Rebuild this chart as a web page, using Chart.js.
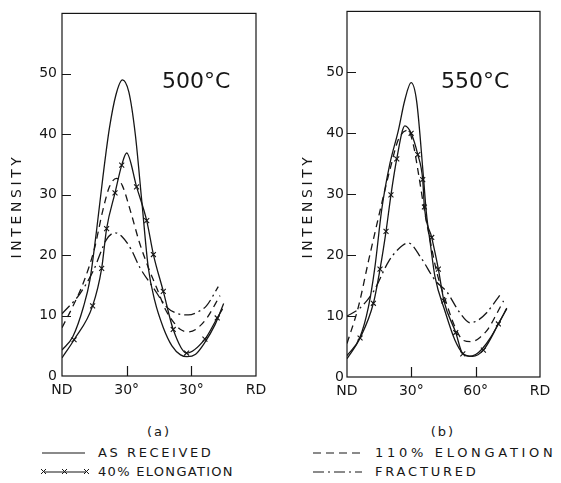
<!DOCTYPE html>
<html>
<head>
<meta charset="utf-8">
<script src="https://cdn.jsdelivr.net/npm/chart.js@4.4.1/dist/chart.umd.min.js"></script>
<style>
  html, body { margin: 0; padding: 0; background: #fff; }
  body { width: 561px; height: 483px; position: relative; overflow: hidden;
         font-family: "DejaVu Sans", sans-serif; color: #161616; }
  canvas { position: absolute; top: 0; }
  #chartA { left: 0; }
  #chartB { left: 280px; }
  .lbl { position: absolute; font-size: 13px; line-height: 14px; white-space: nowrap; }
  svg.key { position: absolute; overflow: visible; }
</style>
</head>
<body>
<canvas id="chartA" width="280" height="400"></canvas>
<canvas id="chartB" width="281" height="400"></canvas>

<div class="lbl" style="left:159px; top:425px; transform:translateX(-50%); letter-spacing:2px">(a)</div>
<div class="lbl" style="left:443px; top:425px; transform:translateX(-50%); letter-spacing:2px">(b)</div>

<svg class="key" style="left:0; top:440px" width="561" height="43">
  <line x1="42" y1="13" x2="85" y2="13" stroke="#161616" stroke-width="1.2"/>
  <line x1="44" y1="32" x2="86" y2="32" stroke="#161616" stroke-width="1.2"/>
  <path d="M41 29 l5 5 M46 29 l-5 5 M62 29 l5 5 M67 29 l-5 5 M84 29 l5 5 M89 29 l-5 5" stroke="#161616" stroke-width="1"/>
  <line x1="313" y1="13" x2="362" y2="13" stroke="#161616" stroke-width="1.2" stroke-dasharray="8 5"/>
  <line x1="313" y1="32" x2="362" y2="32" stroke="#161616" stroke-width="1.2" stroke-dasharray="11 4 2 4"/>
</svg>
<div class="lbl" style="left:98px; top:446px; letter-spacing:2.6px">AS RECEIVED</div>
<div class="lbl" style="left:98px; top:465px; letter-spacing:1.3px">40% ELONGATION</div>
<div class="lbl" style="left:375px; top:446px; letter-spacing:3.7px">110% ELONGATION</div>
<div class="lbl" style="left:375px; top:465px; letter-spacing:2.8px">FRACTURED</div>

<script>
// angle from ND (deg) and intensity

// (a) 500 C
const receivedA_x = [0, 5, 10, 13, 16, 19, 22, 25, 28, 31, 34, 37, 40, 43, 47, 51, 55, 58, 62, 66, 71, 75]
const receivedA_y = [4.3, 6.5, 11.5, 16, 24, 33, 41, 46.5, 49, 47, 40, 29, 18, 12.5, 8, 5, 3.5, 3.2, 3.6, 5.4, 8.5, 12]

const elong40A_x = [0, 5.6, 14.2, 18.4, 20.7, 24.6, 27.7, 30, 34.6, 39.3, 42.4, 47, 51.6, 57.8, 66.3, 72, 74.5]
const elong40A_y = [3, 6, 11.6, 17.8, 24.4, 30.3, 34.9, 36.9, 31.3, 25.7, 20.1, 14, 7.7, 3.8, 6.1, 9.6, 11.1]
const elong40A_measured = [0, 1, 1, 1, 1, 1, 1, 0, 1, 1, 1, 1, 1, 1, 1, 1, 0]

const elong110A_x = [0, 5, 10, 15, 19, 22, 25.3, 28, 32, 36, 40, 44, 48, 52, 55, 58.6, 62, 67, 73.3]
const elong110A_y = [8, 11.5, 15.5, 21, 27.5, 31.3, 32.7, 31.5, 27, 22, 18, 14.5, 11, 8.8, 7.7, 7.3, 7.7, 9.5, 13.3]

const fracturedA_x = [0, 8.3, 14.5, 20.7, 24.6, 28, 32, 36.2, 42.4, 48.6, 53, 58.6, 63, 67, 72.5]
const fracturedA_y = [10.3, 13.6, 17.4, 22.6, 23.7, 23, 21, 17.9, 14.6, 11.4, 10.4, 10.1, 10.6, 11.6, 14.8]

// (b) 550 C
const receivedB_x = [0, 6, 10, 13, 16.2, 20, 23.9, 27, 29.9, 32.5, 35.6, 37, 39, 41, 45.7, 50.4, 54.2, 57, 60, 63, 67, 71, 74.5]
const receivedB_y = [3.5, 6.5, 11.5, 18, 27.5, 35, 40.4, 45.5, 48.3, 45.2, 33, 27, 21.5, 16.5, 10.8, 6, 3.8, 3.4, 3.7, 4.6, 6.5, 9, 11.2]

const elong40B_x = [0, 6.1, 12.3, 15.4, 18.2, 20.5, 23.2, 27, 29.9, 33, 35.3, 36.1, 39.5, 42.6, 45.2, 50.7, 54, 58.5, 63.6, 70.6, 74.5]
const elong40B_y = [3, 6.4, 12.1, 17.7, 23.9, 29.9, 35.8, 41.2, 40, 36.5, 32.4, 27.9, 22.9, 17.7, 12.5, 7.3, 3.8, 3.4, 4.4, 8.7, 11.3]
const elong40B_measured = [0, 1, 1, 1, 1, 1, 1, 0, 1, 1, 1, 1, 1, 1, 1, 1, 1, 0, 1, 1, 0]

const elong110B_x = [0, 5.3, 10, 16.2, 20, 24, 28.5, 31, 33.5, 36, 39, 42, 46, 50, 54.3, 58, 62, 66, 70, 73]
const elong110B_y = [5.5, 11.5, 19, 28.5, 34, 39, 40.5, 38, 33, 27.5, 22, 17, 12.5, 8.5, 6, 5.8, 6.5, 8, 10.5, 12.5]

const fracturedB_x = [0, 6, 12.3, 19.3, 24, 28.6, 34.8, 41, 46.5, 52.7, 57.4, 61, 65, 72]
const fracturedB_y = [10, 11.3, 14, 18.9, 21, 22, 19.4, 15.9, 14, 10.5, 8.9, 9.3, 10.5, 13.8]

const yTicks = [0, 10, 20, 30, 40, 50]
const xTicks = [0, 30, 60, 90]
const xLabelsA = ['ND', '30°', '30°', 'RD']
const xLabelsB = ['ND', '30°', '60°', 'RD']

const ink = '#161616'
const font = 'DejaVu Sans'

const pts = (xs, ys) => xs.map((x, i) => ({ x, y: ys[i] }))

const framePlugin = {
  id: 'frame',
  afterDatasetsDraw(chart, args, opts) {
    const { ctx, chartArea: a, scales: { x, y } } = chart
    ctx.save()
    ctx.strokeStyle = ink
    ctx.lineWidth = 1.2
    ctx.strokeRect(a.left, a.top, a.right - a.left, a.bottom - a.top)

    // tick marks point into the plot
    ctx.beginPath()
    yTicks.filter(v => v > 0).forEach(v => {
      const py = Math.round(y.getPixelForValue(v)) + 0.5
      ctx.moveTo(a.left, py)
      ctx.lineTo(a.left + 9, py)
    })
    xTicks.slice(1, -1).forEach(v => {
      const px = Math.round(x.getPixelForValue(v)) + 0.5
      ctx.moveTo(px, a.bottom)
      ctx.lineTo(px, a.bottom - 10)
    })
    ctx.stroke()

    ctx.fillStyle = ink
    ctx.font = `22px "${font}"`
    ctx.textBaseline = 'middle'
    ctx.textAlign = 'left'
    ctx.fillText(opts.heading, opts.headingX, 82)

    ctx.translate(opts.titleX, 206)
    ctx.rotate(-Math.PI / 2)
    ctx.font = `14px "${font}"`
    ctx.letterSpacing = '3.6px'
    ctx.textAlign = 'center'
    ctx.fillText('INTENSITY', 0, 0)
    ctx.restore()
  }
}

function makePanel(id, p) {
  const line = { borderColor: ink, borderWidth: 1.3, pointRadius: 0, cubicInterpolationMode: 'monotone', fill: false }
  return new Chart(document.getElementById(id), {
    type: 'line',
    data: {
      datasets: [
        { ...line, label: 'As received', data: pts(p.rx, p.ry) },
        { ...line, label: '40% elongation', data: pts(p.ex, p.ey),
          pointStyle: 'crossRot', pointBorderWidth: 1.1, pointBorderColor: ink,
          pointRadius: c => p.measured[c.dataIndex] ? 3.5 : 0 },
        { ...line, label: '110% elongation', data: pts(p.dx, p.dy), borderDash: [7, 5] },
        { ...line, label: 'Fractured', data: pts(p.fx, p.fy), borderDash: [11, 4, 2, 4] }
      ]
    },
    options: {
      responsive: false,
      animation: false,
      layout: { padding: { top: 10, right: p.padRight, left: 0, bottom: 0 } },
      plugins: {
        legend: { display: false },
        tooltip: { enabled: false },
        frame: { heading: p.heading, headingX: p.headingX, titleX: p.titleX }
      },
      scales: {
        x: {
          type: 'linear', min: 0, max: 90,
          grid: { display: false, drawTicks: false },
          border: { display: false },
          afterBuildTicks: s => { s.ticks = xTicks.map(v => ({ value: v })) },
          afterFit: s => { s.height = p.xHeight },
          ticks: {
            padding: 6, maxRotation: 0, autoSkip: false, color: ink,
            font: { family: font, size: 14 },
            callback: v => p.xLabels[xTicks.indexOf(v)]
          }
        },
        y: {
          min: 0, max: 60,
          grid: { display: false, drawTicks: false },
          border: { display: false },
          afterBuildTicks: s => { s.ticks = yTicks.map(v => ({ value: v })) },
          afterFit: s => { s.width = p.yWidth },
          ticks: { padding: p.yPad, color: ink, font: { family: font, size: 14 } }
        }
      }
    },
    plugins: [framePlugin]
  })
}

makePanel('chartA', {
  rx: receivedA_x, ry: receivedA_y, ex: elong40A_x, ey: elong40A_y, measured: elong40A_measured,
  dx: elong110A_x, dy: elong110A_y, fx: fracturedA_x, fy: fracturedA_y,
  xLabels: xLabelsA, heading: '500°C', headingX: 162, titleX: 17,
  yWidth: 62, padRight: 24, xHeight: 24, yPad: 5
})

makePanel('chartB', {
  rx: receivedB_x, ry: receivedB_y, ex: elong40B_x, ey: elong40B_y, measured: elong40B_measured,
  dx: elong110B_x, dy: elong110B_y, fx: fracturedB_x, fy: fracturedB_y,
  xLabels: xLabelsB, heading: '550°C', headingX: 161, titleX: 28,
  yWidth: 67, padRight: 21, xHeight: 23, yPad: 3
})
</script>
</body>
</html>
